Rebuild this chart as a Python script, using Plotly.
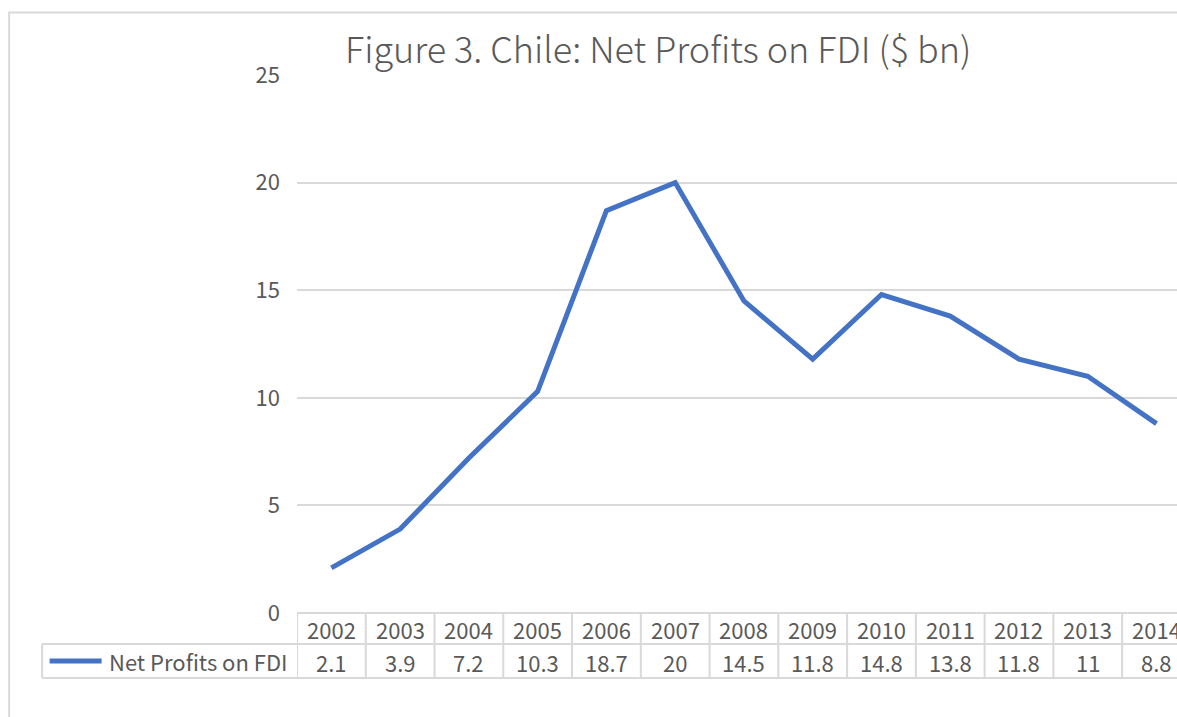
import plotly.graph_objects as go

# ---- data ----
years = ["2002", "2003", "2004", "2005", "2006", "2007", "2008",
         "2009", "2010", "2011", "2012", "2013", "2014"]
net_profits = [2.1, 3.9, 7.2, 10.3, 18.7, 20, 14.5, 11.8, 14.8, 13.8, 11.8, 11, 8.8]
value_labels = ["2.1", "3.9", "7.2", "10.3", "18.7", "20", "14.5",
                "11.8", "14.8", "13.8", "11.8", "11", "8.8"]
series_name = "Net Profits on FDI"
title_text = "Figure 3. Chile: Net Profits on FDI ($ bn)"
y_ticks = [0, 5, 10, 15, 20, 25]

# ---- layout geometry (pixels) ----
W, H = 1177, 717
PL, PT, PB = 296.5, 75, 613
PR = W
COLW = 68.8
TEXT = "#595959"
GRID = "#D9D9D9"
BLUE = "#4472C4"
FONT = "Noto Sans CJK SC, Noto Sans, sans-serif"
FS = 22

def px_x(px):
    return (px - PL) / (PR - PL)

def px_y(py):
    return (PB - py) / (PB - PT)

n = len(years)
xs = list(range(n))
x_max = -0.5 + (PR - PL) / COLW

fig = go.Figure()
fig.add_trace(go.Scatter(
    x=xs, y=net_profits, mode="lines", name=series_name,
    line=dict(color=BLUE, width=5), showlegend=False, cliponaxis=False,
))

shapes = []
annotations = []

hdr_top, row_mid, row_bot = 613, 644, 678
shapes.append(dict(type="line", xref="x", yref="paper", x0=-0.5, x1=x_max + 1,
                   y0=px_y(hdr_top), y1=px_y(hdr_top), line=dict(color=GRID, width=2)))
shapes.append(dict(type="line", xref="paper", yref="paper", x0=px_x(41.5), x1=1.05,
                   y0=px_y(row_mid), y1=px_y(row_mid), line=dict(color=GRID, width=2)))
shapes.append(dict(type="line", xref="paper", yref="paper", x0=px_x(41.5), x1=1.05,
                   y0=px_y(row_bot), y1=px_y(row_bot), line=dict(color=GRID, width=2)))
shapes.append(dict(type="line", xref="paper", yref="paper", x0=px_x(41.5), x1=px_x(41.5),
                   y0=px_y(row_mid), y1=px_y(row_bot), line=dict(color=GRID, width=2)))
for i in range(n + 1):
    xb = i - 0.5
    shapes.append(dict(type="line", xref="x", yref="paper", x0=xb, x1=xb,
                       y0=px_y(hdr_top), y1=px_y(row_bot), line=dict(color=GRID, width=2)))

for i, (yr, val) in enumerate(zip(years, value_labels)):
    annotations.append(dict(x=i, y=px_y((hdr_top + row_mid) / 2), xref="x", yref="paper",
                            text=yr, showarrow=False, xanchor="center", yanchor="middle",
                            font=dict(size=FS, color=TEXT, family=FONT)))
    annotations.append(dict(x=i, y=px_y((row_mid + row_bot) / 2 + 1), xref="x", yref="paper",
                            text=val, showarrow=False, xanchor="center", yanchor="middle",
                            font=dict(size=FS, color=TEXT, family=FONT)))

# legend key inside table
shapes.append(dict(type="line", xref="paper", yref="paper", x0=px_x(49), x1=px_x(101),
                   y0=px_y(661), y1=px_y(661), line=dict(color=BLUE, width=5)))
annotations.append(dict(x=px_x(106), y=px_y(661), xref="paper", yref="paper",
                        text=series_name, showarrow=False, xanchor="left", yanchor="middle",
                        font=dict(size=FS, color=TEXT, family=FONT)))

# outer chart border
shapes.append(dict(type="rect", xref="paper", yref="paper", layer="below",
                   x0=px_x(8.5), x1=px_x(W + 20), y0=px_y(740), y1=px_y(12.5),
                   line=dict(color=GRID, width=2)))

# title
annotations.append(dict(x=px_x(658), y=px_y(47), xref="paper", yref="paper",
                        text=title_text, showarrow=False, xanchor="center", yanchor="middle",
                        font=dict(size=36, color=TEXT, family=FONT, weight=300)))

fig.update_layout(
    width=W, height=H,
    margin=dict(l=PL, r=0, t=PT, b=H - PB, pad=0),
    paper_bgcolor="white", plot_bgcolor="white",
    shapes=shapes, annotations=annotations,
    xaxis=dict(range=[-0.5, x_max], showticklabels=False, showgrid=False,
               zeroline=False, showline=False, fixedrange=True),
    yaxis=dict(range=[0, 25], tickvals=y_ticks, ticktext=[str(t) for t in y_ticks],
               showgrid=True, gridcolor=GRID, gridwidth=1.5, zeroline=False,
               showline=False, ticks="", ticklabelstandoff=16,
               tickfont=dict(size=FS, color=TEXT, family=FONT), fixedrange=True),
    font=dict(family=FONT, color=TEXT),
    showlegend=False,
)

fig.write_html(
    "out.html",
    config={"displayModeBar": False},
    post_script="document.body.style.margin='0';document.body.style.overflow='hidden';",
)
